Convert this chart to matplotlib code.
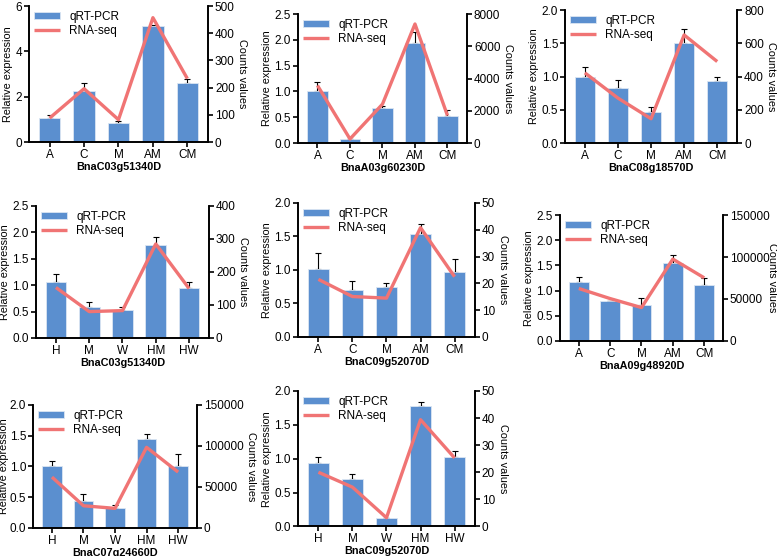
import matplotlib
matplotlib.use("Agg")
import matplotlib.pyplot as plt
import numpy as np

plt.rcParams["font.family"] = ["Liberation Sans", "DejaVu Sans"]
plt.rcParams["font.size"] = 8.5

BAR_COLOR = "#5b8fcf"
LINE_COLOR = "#f07474"

# panel data ------------------------------------------------------------
genes = ["BnaC03g51340D", "BnaA03g60230D", "BnaC08g18570D",
         "BnaC03g51340D", "BnaC09g52070D", "BnaA09g48920D",
         "BnaC07g24660D", "BnaC09g52070D"]

groups_a = ["A", "C", "M", "AM", "CM"]
groups_h = ["H", "M", "W", "HM", "HW"]
groups = [groups_a, groups_a, groups_a, groups_h, groups_a, groups_a, groups_h, groups_h]

qpcr = [
    [1.04, 2.26, 0.85, 5.10, 2.60],
    [1.00, 0.08, 0.68, 1.94, 0.52],
    [1.00, 0.825, 0.465, 1.50, 0.925],
    [1.06, 0.585, 0.535, 1.77, 0.95],
    [1.015, 0.70, 0.74, 1.54, 0.975],
    [1.17, 0.79, 0.71, 1.55, 1.11],
    [1.00, 0.435, 0.32, 1.45, 1.00],
    [0.935, 0.70, 0.13, 1.78, 1.03],
]
qpcr_err = [
    [0.16, 0.33, 0.07, 0.08, 0.18],
    [0.18, 0.0, 0.04, 0.21, 0.11],
    [0.14, 0.125, 0.075, 0.215, 0.075],
    [0.15, 0.095, 0.05, 0.15, 0.11],
    [0.235, 0.14, 0.06, 0.14, 0.195],
    [0.10, 0.0, 0.15, 0.15, 0.14],
    [0.085, 0.115, 0.06, 0.08, 0.21],
    [0.095, 0.07, 0.0, 0.05, 0.09],
]
rnaseq = [
    [88, 196, 82, 457, 233],
    [3570, 250, 2410, 7380, 1700],
    [422, 270, 146, 650, 490],
    [153, 80, 83, 285, 150],
    [21.5, 15.1, 14.5, 40.8, 22.5],
    [62500, 50500, 39800, 97500, 75200],
    [62000, 27000, 23800, 98300, 68100],
    [20, 14.5, 3.2, 39.4, 25.3],
]
left_max = [6, 2.5, 2.0, 2.5, 2.0, 2.5, 2.0, 2.0]
left_ticks = [
    [0, 2, 4, 6],
    [0.0, 0.5, 1.0, 1.5, 2.0, 2.5],
    [0.0, 0.5, 1.0, 1.5, 2.0],
    [0.0, 0.5, 1.0, 1.5, 2.0, 2.5],
    [0.0, 0.5, 1.0, 1.5, 2.0],
    [0.0, 0.5, 1.0, 1.5, 2.0, 2.5],
    [0.0, 0.5, 1.0, 1.5, 2.0],
    [0.0, 0.5, 1.0, 1.5, 2.0],
]
right_max = [500, 8000, 800, 400, 50, 150000, 150000, 50]
right_ticks = [
    [0, 100, 200, 300, 400, 500],
    [0, 2000, 4000, 6000, 8000],
    [0, 200, 400, 600, 800],
    [0, 100, 200, 300, 400],
    [0, 10, 20, 30, 40, 50],
    [0, 50000, 100000, 150000],
    [0, 50000, 100000, 150000],
    [0, 10, 20, 30, 40, 50],
]

# axes boxes in figure fraction (left, bottom, width, height)
boxes = [
    (0.0373, 0.7446, 0.2304, 0.2446),
    (0.3835, 0.7428, 0.2175, 0.2320),
    (0.7272, 0.7428, 0.2214, 0.2392),
    (0.0463, 0.3921, 0.2227, 0.2374),
    (0.3835, 0.3939, 0.2278, 0.2410),
    (0.7207, 0.3867, 0.2098, 0.2266),
    (0.0425, 0.0506, 0.2111, 0.2210),
    (0.3835, 0.0532, 0.2278, 0.2436),
]

fig = plt.figure(figsize=(7.77, 5.56), dpi=100)

for i in range(len(genes)):
    ax = fig.add_axes(boxes[i])
    x = np.arange(len(groups[i]))
    vals = np.array(qpcr[i])
    err = np.array(qpcr_err[i])
    ax.errorbar(x, vals, yerr=[np.zeros_like(err), err], fmt="none",
                ecolor="black", elinewidth=0.8, capsize=2.5, capthick=0.8, zorder=1)
    ax.bar(x, vals, width=0.62, color=BAR_COLOR, edgecolor="#dbe6f3",
           linewidth=0.6, label="qRT-PCR", zorder=2)
    ax.set_xlim(-0.6, len(x) - 0.4)
    ax.set_ylim(0, left_max[i])
    ax.set_yticks(left_ticks[i])
    if left_max[i] == 6:
        ax.set_yticklabels([str(int(t)) for t in left_ticks[i]])
    else:
        ax.set_yticklabels([f"{t:.1f}" for t in left_ticks[i]])
    ax.set_xticks(x)
    ax.set_xticklabels(groups[i])
    ax.set_ylabel("Relative expression", fontsize=7.8, labelpad=0.5 if i == 6 else 2)
    ax.set_xlabel(genes[i], fontweight="bold", fontsize=7.8, labelpad=0.5)

    ax2 = ax.twinx()
    ax2.plot(x, rnaseq[i], color=LINE_COLOR, linewidth=2.4,
             solid_capstyle="butt", label="RNA-seq", zorder=3)
    ax2.set_ylim(0, right_max[i])
    ax2.set_yticks(right_ticks[i])
    ax2.set_yticklabels([str(t) for t in right_ticks[i]])
    ax2.set_ylabel("Counts values", fontsize=7.8, rotation=270,
                   labelpad=5 if i == 5 else 9)

    for a in (ax, ax2):
        a.spines["top"].set_visible(False)
        for s in ("left", "right", "bottom"):
            a.spines[s].set_linewidth(1.2)
        a.tick_params(direction="out", width=1.2, length=3.5, pad=1.5)

    handles = [ax.patches[0], ax2.get_lines()[0]]
    ax2.legend(handles, ["qRT-PCR", "RNA-seq"], loc="upper left",
               frameon=False, handlelength=2.2, handleheight=0.5,
               borderaxespad=0.2, labelspacing=0.2, borderpad=0.2,
               bbox_to_anchor=(0.0, 1.0))

fig.savefig("out.png", dpi=100)
